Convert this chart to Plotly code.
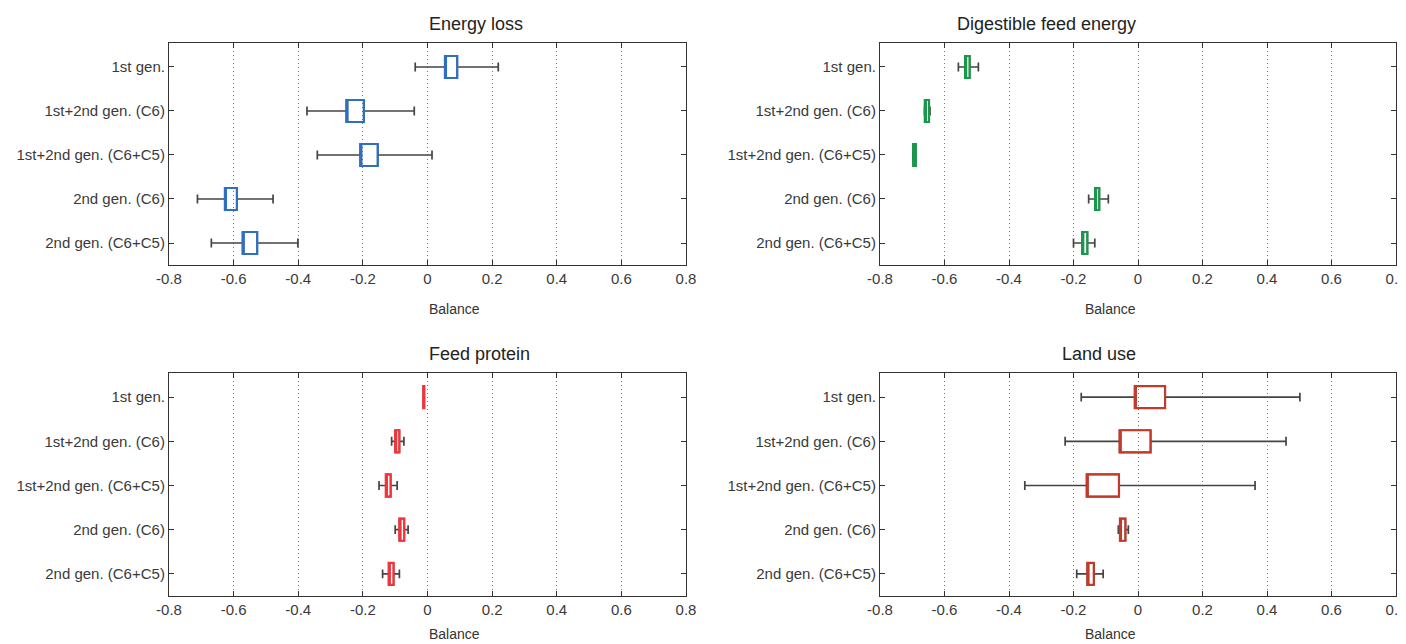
import plotly.graph_objects as go

categories = ["1st gen.", "1st+2nd gen. (C6)", "1st+2nd gen. (C6+C5)", "2nd gen. (C6)", "2nd gen. (C6+C5)"]
x_ticks = [-0.8, -0.6, -0.4, -0.2, 0, 0.2, 0.4, 0.6, 0.8]
x_tick_labels = ["-0.8", "-0.6", "-0.4", "-0.2", "0", "0.2", "0.4", "0.6", "0.8"]

# Energy loss
el_low = [-0.038, -0.373, -0.341, -0.712, -0.669]
el_q1 = [0.054, -0.251, -0.208, -0.627, -0.572]
el_q3 = [0.092, -0.197, -0.154, -0.590, -0.527]
el_high = [0.219, -0.041, 0.014, -0.478, -0.401]

# Digestible feed energy
de_low = [-0.557, -0.662, -0.698, -0.153, -0.200]
de_q1 = [-0.536, -0.661, -0.697, -0.133, -0.173]
de_q3 = [-0.522, -0.648, -0.689, -0.120, -0.157]
de_high = [-0.495, -0.645, -0.689, -0.092, -0.134]

# Feed protein
fp_low = [-0.013, -0.111, -0.150, -0.100, -0.139]
fp_q1 = [-0.013, -0.100, -0.129, -0.087, -0.120]
fp_q3 = [-0.010, -0.087, -0.114, -0.072, -0.105]
fp_high = [-0.010, -0.073, -0.094, -0.060, -0.087]

# Land use
lu_low = [-0.176, -0.226, -0.351, -0.061, -0.190]
lu_q1 = [-0.010, -0.057, -0.159, -0.056, -0.157]
lu_q3 = [0.084, 0.039, -0.059, -0.039, -0.137]
lu_high = [0.502, 0.459, 0.363, -0.030, -0.108]

panels = [
    ("Energy loss", el_low, el_q1, el_q3, el_high, "#2f6fc1"),
    ("Digestible feed energy", de_low, de_q1, de_q3, de_high, "#17984a"),
    ("Feed protein", fp_low, fp_q1, fp_q3, fp_high, "#f5333a"),
    ("Land use", lu_low, lu_q1, lu_q3, lu_high, "#c23a28"),
]

OFF = 8  # default page body margin
W, H = 1406 - OFF, 644 - OFF


def px_x(p):
    return (p - OFF) / W


def px_y(p):
    return 1 - (p - OFF) / H


x_doms = [(px_x(169), px_x(686)), (px_x(880), px_x(1396))]
y_doms = [(px_y(265), px_y(43)), (px_y(596), px_y(373))]

FONT = "Liberation Sans, Arial, sans-serif"
fig = go.Figure()
layout = dict(
    width=W, height=H, margin=dict(l=0, r=0, t=0, b=0, autoexpand=False),
    paper_bgcolor="white", plot_bgcolor="white", showlegend=False,
    boxmode="overlay", font=dict(family=FONT, size=12, color="#333"),
)
annotations = []
for i, (title, low, q1, q3, high, color) in enumerate(panels):
    r, c = divmod(i, 2)
    n = i + 1
    xa = "x" if n == 1 else f"x{n}"
    ya = "y" if n == 1 else f"y{n}"
    # whiskers (gray)
    fig.add_trace(go.Box(
        y=categories, q1=q1, median=q1, q3=q3, lowerfence=low, upperfence=high,
        orientation="h", xaxis=xa, yaxis=ya, width=0.5, whiskerwidth=0.4,
        line=dict(color="#444", width=1.7), fillcolor="rgba(0,0,0,0)",
        boxpoints=False, hoverinfo="skip",
    ))
    # colored box
    fig.add_trace(go.Box(
        y=categories, q1=q1, median=q1, q3=q3, lowerfence=q1, upperfence=q3,
        orientation="h", xaxis=xa, yaxis=ya, width=0.5, whiskerwidth=0,
        line=dict(color=color, width=2.2), fillcolor="rgba(0,0,0,0)",
        boxpoints=False, hoverinfo="skip",
    ))
    xkey = "xaxis" if n == 1 else f"xaxis{n}"
    ykey = "yaxis" if n == 1 else f"yaxis{n}"
    layout[xkey] = dict(
        domain=x_doms[c], anchor=ya, range=[-0.8, 0.8], automargin=False,
        tickvals=x_ticks, ticktext=x_tick_labels, ticklabeloverflow="allow",
        showgrid=True, gridcolor="#777", griddash="1px,3px", gridwidth=1,
        zeroline=False, showline=True, linecolor="#333", linewidth=1.2,
        mirror="ticks", ticks="inside", ticklen=5, tickcolor="#333",
        tickfont=dict(size=15, color="#3a3a3a"),
    )
    layout[ykey] = dict(
        domain=y_doms[r], anchor=xa, type="category", automargin=False,
        categoryorder="array", categoryarray=categories,
        range=[4.5, -0.545], showgrid=False, zeroline=False,
        showline=True, linecolor="#333", linewidth=1.2,
        mirror="ticks", ticks="inside", ticklen=5, tickcolor="#333",
        tickfont=dict(size=15, color="#3a3a3a"),
    )
    xmid = (x_doms[c][0] + x_doms[c][1]) / 2
    annotations.append(dict(
        text=title, x=xmid, y=y_doms[r][1], xref="paper", yref="paper",
        yanchor="middle", yshift=19, showarrow=False,
        font=dict(size=18, color="#222", family=FONT),
    ))
    annotations.append(dict(
        text="Balance", x=xmid, y=y_doms[r][0], xref="paper", yref="paper",
        yanchor="middle", yshift=-44 if r == 0 else -38, showarrow=False,
        font=dict(size=14, color="#333", family=FONT),
    ))
layout["annotations"] = annotations
fig.update_layout(**layout)
fig.write_html("out.html")
